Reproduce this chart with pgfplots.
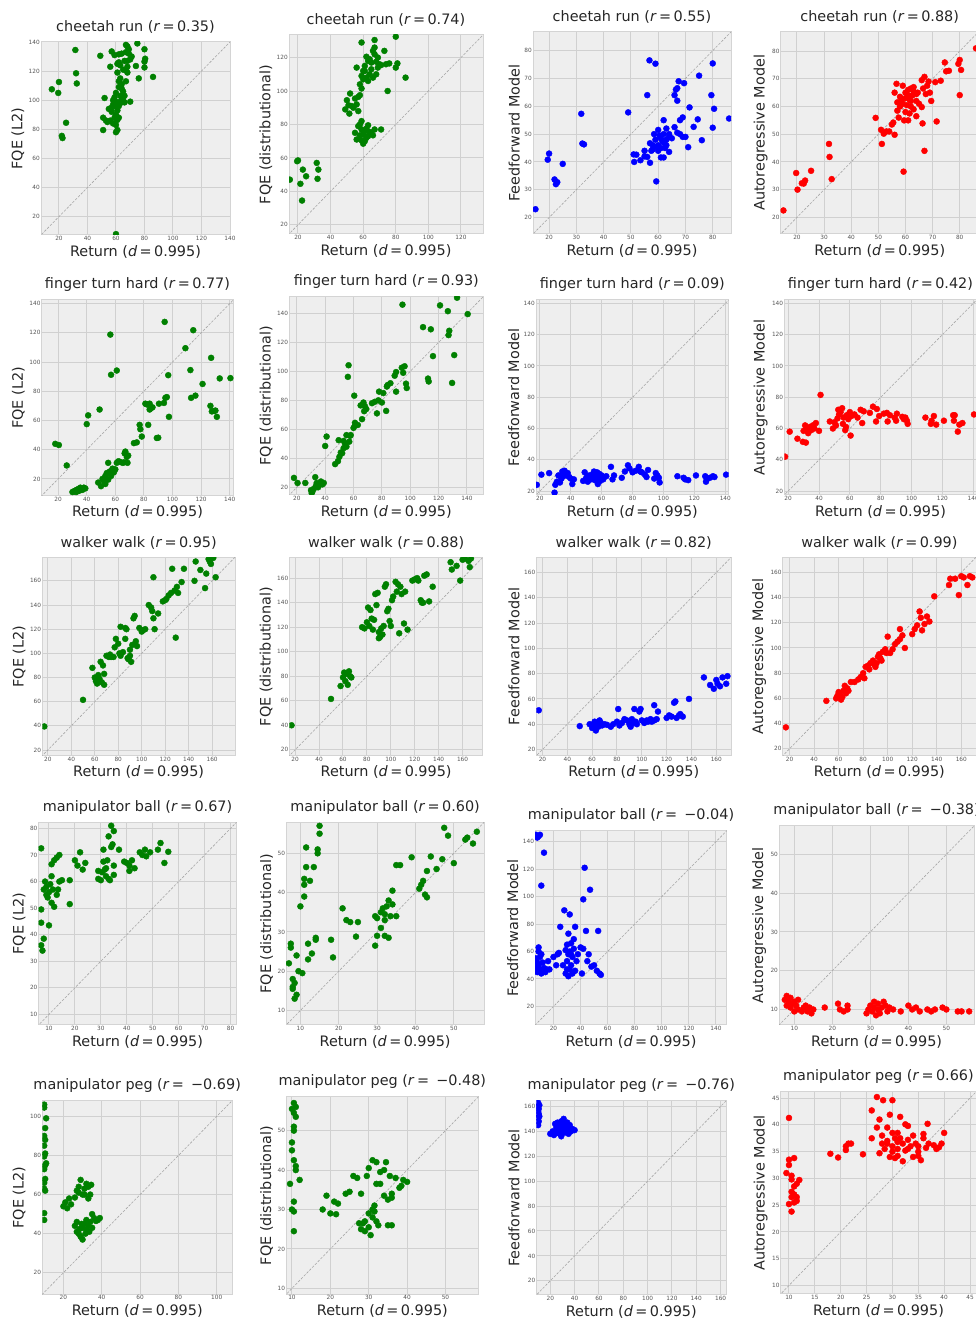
\documentclass[border=0pt]{standalone}
\usepackage{fontspec}
\setmainfont{DejaVu Sans}
\usepackage{pgfplots}
\pgfplotsset{compat=1.18}

\definecolor{bgc}{HTML}{EEEEEE}
\definecolor{gridc}{HTML}{D0D0D0}
\definecolor{framec}{HTML}{D4D4D4}
\definecolor{tickc}{HTML}{555555}
\definecolor{txtc}{HTML}{262626}
\definecolor{mgreen}{HTML}{008000}
\definecolor{mblue}{HTML}{0000FF}
\definecolor{mred}{HTML}{FF0000}

\newcommand{\nminus}{\hspace{0.5em}−}

\pgfplotsset{
  base/.style={
    scale only axis, anchor=south west,
    axis background/.style={fill=bgc},
    grid=major, major grid style={draw=gridc, line width=1pt},
    axis line style={draw=framec, line width=1pt},
    major tick length=0pt,
    clip marker paths=true,
    /pgf/number format/assume math mode=true,
    tick label style={font=\fontsize{5.8}{6}\selectfont, text=tickc},
    xticklabel style={inner sep=1pt},
    yticklabel style={inner sep=1pt},
    label style={font=\fontsize{14.4}{16}\selectfont, text=txtc},
    title style={font=\fontsize{14.4}{16}\selectfont, text=txtc, inner sep=2pt},
    xlabel={Return (\textit{d}\,=\,0.995)},
  },
  box/.style n args={4}{at={(#1pt,#2pt)}, width=#3pt, height=#4pt},
  lim/.style 2 args={xmin=#1, xmax=#2, ymin=#1, ymax=#2},
  diag/.style={color=gray!70, dashed, line width=0.6pt, dash pattern=on 2.5pt off 1.5pt},
  gdot/.style={only marks, mark=*, mark size=3pt, color=mgreen},
  bdot/.style={only marks, mark=*, mark size=3pt, color=mblue},
  rdot/.style={only marks, mark=*, mark size=3pt, color=mred},
}

\begin{document}
\begin{tikzpicture}
\useasboundingbox (0,0) rectangle (976pt,1322pt);
\clip (0,0) rectangle (976pt,1322pt);

% ---------------- row 1: cheetah run ----------------
\begin{axis}[base, box={41}{1087}{189}{193}, lim={7.4}{140},
  xtick={20,40,...,140}, ytick={20,40,...,140},
  title={cheetah run (\textit{r}\,=\,0.35)}, ylabel={FQE (L2)}]
\addplot[diag] coordinates {(0,0) (300,300)};
\addplot[gdot] coordinates {
(15,107.5) (19.5,105) (20,112.5) (22,75.5) (22.5,74) (25,84.5) (31.5,134.5) (32,118.5) (32.5,111.5) (60,8)
(49,130.5) (51,79.5) (51,88) (52,101.5) (53,86) (54,85) (55,94) (56,123) (56,86) (57,133.5) (57,92) (58,97)
(58,84) (59,102) (59,96) (59,131) (60,78) (60,90) (60,105) (60,99) (61,79.5) (61,86.5) (61,93) (61,119)
(61,125) (62,109) (62,96) (62,113) (62,126) (62,131.5) (63,99) (63,103) (63,115) (63,124) (64,108) (64,102)
(64,132) (65,121) (65,106) (66,127) (66,98.5) (66,103) (67,138) (67,113) (67,120.5) (67,133) (68,137) (68,127)
(68,119) (68,123) (69,132) (69,135) (70,99) (70,128) (71,130) (74,123.5) (75,139) (76,115) (80,135) (80,122.5)
(80,126.5) (80.5,128.5) (86,116) (63,98) (58,100) (57,95) (60,83) (62,88) (64,111) (65,100) (59,88)
};
\end{axis}

\begin{axis}[base, box={289}{1088}{194}{199}, lim={14.5}{133.5},
  xtick={20,40,...,120}, ytick={20,40,...,120},
  title={cheetah run (\textit{r}\,=\,0.74)}, ylabel={FQE (distributional)}]
\addplot[diag] coordinates {(0,0) (300,300)};
\addplot[gdot] coordinates {
(15,47) (19.5,58) (20,58.5) (21.5,44.5) (22.5,34.5) (23,53) (25,49) (31.5,57) (32,47.5) (32.5,53)
(49,89) (50,94.5) (51,91.5) (51.5,86.5) (52,98.5) (53,91) (54,90) (55,95.5) (56,92) (56,114) (57,96.5) (57,88)
(58,97.5) (58,104) (59,129) (59,109) (59,101.5) (60,112) (60,107) (61,112) (61,115) (62,120.5) (62,108) (63,118)
(63,106) (64,110) (64,119) (65,113) (65,117) (66,124) (66,108) (67,130.5) (67,126) (67,122) (68,110) (68,117.5)
(69,114) (69,120) (70,116) (71,115.5) (73,124) (74,116) (75,100) (76,116.5) (80,132.5) (80,114) (81,116.5) (86,108)
(55,75) (56,71) (57,79) (58,80) (58,73.5) (59,82) (59,77) (60,68.5) (60,74) (61,70) (61,76) (62,77.5) (62,72)
(63,73) (64,75.5) (65,74.5) (66,73.5) (67,77) (71,77) (59,70.5) (63,79.5)
};
\end{axis}

\begin{axis}[base, box={533}{1088}{198}{202}, lim={14.1}{86.7},
  xtick={20,30,...,80}, ytick={20,30,...,80},
  title={cheetah run (\textit{r}\,=\,0.55)}, ylabel={Feedforward Model}]
\addplot[diag] coordinates {(0,0) (300,300)};
\addplot[bdot] coordinates {
(15,23) (19.5,40.8) (20,43) (22,33.7) (22.5,32) (23,32.7) (25,39.3) (31.8,57.3) (32.2,46.6) (32.8,46.3)
(49,57.8) (51,42.7) (51.2,40) (52,42.6) (53.5,40.6) (55,44) (55,42) (56,64) (56,41.8) (56.8,76.5) (57,46.7)
(57,39.7) (58,44.5) (58,46) (58.5,50) (59,75.3) (59,48) (59.3,33) (60,51.5) (60,46) (60,44) (61,41.6) (61,48.5)
(61,45) (62,55) (62,50) (62,41.6) (62,47) (63,52) (63,48) (63,46) (64,49) (64,43.6) (64,50) (65,48.5) (66,64)
(66,52.5) (66.5,66) (67,66.5) (67,62) (67,50.5) (67.5,69) (68,50) (68,55) (69,56) (69,49) (69.5,68.3) (70,49)
(71,45.3) (71.5,59.6) (73,52.6) (74.5,55.3) (75,71) (76,47.8) (79.5,64) (80,75.4) (80,52.3) (80.5,59.1) (86,55.6)
(57.5,44) (59.5,45.5) (61.5,47.5) (60.5,49.5) (62.5,45)
};
\end{axis}

\begin{axis}[base, box={780.7}{1088}{198}{202.3}, lim={14}{87},
  xtick={20,30,...,80}, ytick={20,30,...,80},
  title={cheetah run (\textit{r}\,=\,0.88)}, ylabel={Autoregressive Model}]
\addplot[diag] coordinates {(0,0) (300,300)};
\addplot[rdot] coordinates {
(15,22.5) (19.7,36) (20.2,30) (21.8,32.3) (22.5,32.2) (23,33.3) (25.2,36.8) (31.8,46.5) (32,41.8) (32.8,33.8)
(49,55.9) (51,51.6) (51.3,46.5) (52,50.2) (53,51) (54,51) (55,53.5) (55.5,54.2) (56,49.8) (56,65) (56.7,68.2)
(57,58.5) (57,61.5) (57.5,56) (58,63.5) (58,60) (58.5,62.2) (59,67.5) (59.3,36.5) (59.5,55) (60,63) (60,58)
(60,65) (60.5,60.5) (61,55) (61,64) (61,66) (61.5,57.5) (62,66.5) (62,62) (62,60) (63,65.5) (63,59) (63,67)
(64,56.5) (64,62) (64.5,65) (65,61) (66,69.5) (66,59.8) (66.3,53.9) (66.5,66.5) (67,44) (67,70.7) (67.5,64.5)
(68,67.5) (68.5,69) (69,65) (69.5,62) (71,68.8) (71.5,54.6) (73,69.3) (74.5,75.9) (75,72.7) (76,72.9) (79.5,75.4)
(80,76.8) (80,64.1) (80.5,73.2) (86,81) (62.5,64) (61.5,62.5) (59,61) (64,64.5)
};
\end{axis}

% ---------------- row 2: finger turn hard ----------------
\begin{axis}[base, box={41.7}{826.3}{191.6}{195.7}, lim={8.5}{142.5},
  xtick={20,40,...,140}, ytick={20,40,...,140},
  title={finger turn hard (\textit{r}\,=\,0.77)}, ylabel={FQE (L2)}]
\addplot[diag] coordinates {(0,0) (300,300)};
\addplot[gdot] coordinates {
(18,44) (20.5,43.2) (26,29.2) (30,11) (31,11.5) (32,12) (32.5,11) (33,12.5) (34,13) (35,12) (35.5,14) (36,13)
(37,12.5) (38,14) (39,13.5) (33.5,11.5) (40,57.5) (41,63.5) (48,17.5) (49,67.5) (50,15) (51,20) (52,18.5) (53,22)
(53,16.5) (54,24) (55,31) (55,19.5) (56,25) (56.5,118.8) (57,91.3) (57,22) (58,27) (59,24.5) (60,26.5) (61,94.2)
(61,31) (62,32) (63,31.8) (65,31) (66,31.3) (66.5,37.5) (67,38.7) (68,35) (68.5,31) (69,36) (73,44.5) (75,45)
(77,57) (77.5,54) (78.5,49) (81,71.5) (82,71) (83,57) (84,71.5) (84,67.5) (85,68.5) (86,69) (89,48) (90,48.2)
(90.5,71.5) (94,72) (94.5,127.5) (95,75.5) (96,76) (97,91) (97.5,62.5) (109,109.5) (112.5,94.5) (113,75.5)
(114.5,121.8) (116,77) (121,85) (126.5,70) (127,102.9) (127.5,66.2) (129,66.5) (130,66.8) (131,62.5) (133,88.8) (140.5,89)
};
\end{axis}

\begin{axis}[base, box={289.3}{827}{194}{198.3}, lim={14.7}{151.5},
  xtick={20,40,...,140}, ytick={20,40,...,140},
  title={finger turn hard (\textit{r}\,=\,0.93)}, ylabel={FQE (distributional)}]
\addplot[diag] coordinates {(0,0) (300,300)};
\addplot[gdot] coordinates {
(18,26.5) (20.5,23) (26,23) (30,18) (31,17) (32,19) (33,27) (33.5,21) (34,23) (35,20) (36,22.5) (37,24) (38,22)
(39,23) (30.5,16) (40,48.5) (41,55) (47,36) (49,38) (49.5,52.5) (50,41) (51,44) (52,43.5) (53,47) (53,52) (54,50)
(55,56) (55,48) (56,96.2) (56.5,104.2) (57,51.5) (57.5,55.5) (58,56) (60,61) (60.5,83.2) (61,64.5) (61,62.5)
(63,63) (65,76.5) (66,67) (67,78.5) (67.5,72.5) (68,76) (69,74) (73,78) (75,79) (76.5,71) (77.5,80) (78,86)
(80,78.5) (81,85) (83,72.7) (83.5,89.5) (84,90.5) (86,91.8) (89,97) (90,99.5) (90,86) (94,102.5) (94.5,146)
(95,99) (96,103.5) (97,91.5) (97.5,88.5) (109,130.5) (112.5,95) (113,93) (114.5,129) (116,110.5) (121,145.5)
(126.5,141.5) (127,125) (127.5,128) (129.5,92) (131,111.2) (133,150.8) (140.5,139.5)
};
\end{axis}

\begin{axis}[base, box={536}{827}{192.7}{195}, lim={17.5}{142.2},
  xtick={20,40,...,140}, ytick={20,40,...,140},
  title={finger turn hard (\textit{r}\,=\,0.09)}, ylabel={Feedforward Model}]
\addplot[diag] coordinates {(0,0) (300,300)};
\addplot[bdot] coordinates {
(18,24) (21,30.5) (26,31.5) (29.5,19) (30,24) (31,26) (32,30) (33,25.5) (34,28) (34.5,32.5) (35,29.5) (36,33)
(37,30) (38,31.5) (39,29) (40,28) (41,24.5) (42,27.5) (48,26.5) (49,32) (50,28.5) (51,26) (52,29) (53,27.5)
(54,30.5) (55,32.5) (55.5,27) (56,29.5) (57,32) (57.5,24.5) (58,28) (59,26.5) (60,30) (61,27.5) (63,29.5)
(66,35.5) (67,27.5) (68,30) (73,28.5) (75,32.5) (77,36.5) (78,34.5) (80,32) (82,33) (84,35.5) (85,32.5) (86,32)
(88,30.5) (89,29) (90,33.5) (94,28) (95,31.5) (96,30) (97,28.5) (97.5,25.5) (109,29.5) (113,28.5) (114,27.5)
(116,27) (121,30) (127,29.5) (127.5,26) (128,27.5) (130,28.5) (132,29.5) (133,29) (140.5,30.5) (35.5,31) (52,30) (58.5,31)
};
\end{axis}

\begin{axis}[base, box={784.3}{827}{192.3}{195}, lim={17.5}{142.2},
  xtick={20,40,...,140}, ytick={20,40,...,140},
  title={finger turn hard (\textit{r}\,=\,0.42)}, ylabel={Autoregressive Model}]
\addplot[diag] coordinates {(0,0) (300,300)};
\addplot[rdot] coordinates {
(18,42) (21,58) (26,53.5) (29.5,51.5) (30,58.5) (31,62) (31.5,51) (32,60) (33,57) (34,61) (35,59) (36,62) (37,60)
(38,63.5) (40,58.5) (41,81.5) (47,64.5) (49,60) (50,64) (51,62) (52,66.5) (52.5,72) (53,69) (54,70.5) (55,73)
(55.5,63) (56,67) (57,59) (57.5,61) (58,68.5) (59,66) (60,70.5) (60.5,55.5) (61,68) (63,69) (65,67) (67,72)
(68,63.5) (69,71) (73,70) (75,74) (77,64.5) (77.5,72.5) (79,68) (82,69.5) (84,70) (84.5,64.5) (86,68.5) (89,67)
(90,65) (90.5,69.5) (94,67.5) (95,66) (96,67) (97,65) (97.5,63) (109,67) (112.5,63) (113,65) (114.5,68)
(116,62.5) (121,65) (127,68.5) (127.5,65) (128,68.5) (130,58) (131,62.5) (133,63.5) (140.5,69)
};
\end{axis}

% ---------------- row 3: walker walk ----------------
\begin{axis}[base, box={42.3}{566.3}{192.7}{198.4}, lim={15.3}{179.5},
  xtick={20,40,...,160}, ytick={20,40,...,160},
  title={walker walk (\textit{r}\,=\,0.95)}, ylabel={FQE (L2)}]
\addplot[diag] coordinates {(0,0) (300,300)};
\addplot[gdot] coordinates {
(17,39.5) (50,61.5) (58,88) (60,80) (61,77) (62,75) (63,82) (64,79) (65,93) (66,76) (67,90) (68,83) (68,74)
(70,98) (72,97) (73,99) (74,97) (76,97) (77,105) (78,112) (80,108) (81,100) (82,122) (82,98) (84,101) (86,121)
(86,112) (87,120) (88,96) (89,95) (90,103) (90,98) (91,93) (92,107) (93,129) (94,131) (95,110) (96,106) (98,121)
(100,118) (101,119) (103,120) (106,140) (108,138) (109,135) (110,163) (110,129) (111,120) (114,133) (118,143)
(120,144) (121,145) (123,148) (125,150) (126,170) (128,152) (130,155) (131,150) (129,113) (134,159) (136,170)
(145,160) (146,176) (150,169) (154,154) (155,166) (157,178) (158,176) (159,174) (161,179) (163,163)
};
\end{axis}

\begin{axis}[base, box={289.4}{566.3}{193.5}{198.4}, lim={15.2}{177},
  xtick={20,40,...,160}, ytick={20,40,...,160},
  title={walker walk (\textit{r}\,=\,0.88)}, ylabel={FQE (distributional)}]
\addplot[diag] coordinates {(0,0) (300,300)};
\addplot[gdot] coordinates {
(17,40) (50,61.5) (58,72) (60,79) (61,83) (62,76) (63,82) (64,73) (65,84) (66,80) (67,79) (76,120) (78,119)
(80,124) (81,136) (82,121) (83,134) (84,127) (85,118) (86,126) (87,147) (88,138) (89,148) (90,111) (90,116)
(92,119) (93,114) (94,121) (95,153) (96,155) (97,133) (98,135) (99,125) (100,121) (101,142) (102,145) (104,157)
(105,149) (106,155) (107,115) (108,153) (109,147) (111,123) (112,149) (118,158) (120,159) (122,160) (123,158)
(125,142) (126,140) (127,140) (128,162) (130,163) (132,141) (135,153) (150,173) (151,167) (155,170) (158,158)
(160,175) (162,176) (165,174) (166,169) (167,176) (114,118) (91,112)
};
\end{axis}

\begin{axis}[base, box={536.4}{566.3}{194.8}{198.4}, lim={15.1}{172},
  xtick={20,40,...,160}, ytick={20,40,...,160},
  title={walker walk (\textit{r}\,=\,0.82)}, ylabel={Feedforward Model}]
\addplot[diag] coordinates {(0,0) (300,300)};
\addplot[bdot] coordinates {
(17,51) (50,38.5) (58,40) (60,37) (61,39) (62,42) (63,35) (64,40) (65,38) (66,43) (67,41) (68,39) (70,40)
(72,39.5) (75,38) (77,40) (80,42) (81,52) (82,39) (84,41) (86,44) (88,43) (90,40) (91,38) (92,44) (93,41) (94,52)
(95,42) (96,40) (98,50) (99,52) (100,43) (102,41) (104,43) (105,42) (107,44) (108,42) (110,55) (110,43) (112,44)
(113,50) (120,45) (122,47) (124,46) (126,57) (127,58) (128,45) (130,47) (131,48) (133,46) (138,60) (150,77)
(155,71) (158,68) (160,75) (161,72) (163,70) (165,77) (168,72) (169,78)
};
\end{axis}

\begin{axis}[base, box={782.8}{566.3}{193.2}{198.4}, lim={14.5}{172},
  xtick={20,40,...,160}, ytick={20,40,...,160},
  title={walker walk (\textit{r}\,=\,0.99)}, ylabel={Autoregressive Model}]
\addplot[diag] coordinates {(0,0) (300,300)};
\addplot[rdot] coordinates {
(17,37) (50,58) (58,60) (59,62) (60,65) (61,63) (62,59) (63,61) (64,66) (65,70) (66,64) (67,68) (68,66) (70,73)
(73,73) (76,75) (78,77) (80,80) (81,76) (82,85) (84,86) (85,83) (86,88) (88,90) (89,87) (90,85) (91,88) (92,93)
(93,95) (94,92) (95,90) (96,97) (98,99) (99,96) (100,109) (102,96) (104,99) (106,103) (108,105) (110,115)
(110,107) (112,110) (114,100) (120,111) (122,115) (124,118) (126,129) (127,124) (128,114) (130,119) (132,125)
(134,121) (138,141) (150,150) (151,155) (155,155) (158,142) (160,157) (162,156) (165,150) (167,157) (169,156)
};
\end{axis}

% ---------------- row 4: manipulator ball ----------------
\begin{axis}[base, box={38.6}{297}{197.9}{202.7}, lim={6}{82.3},
  xtick={10,20,...,80}, ytick={10,20,...,80},
  title={manipulator ball (\textit{r}\,=\,0.67)}, ylabel={FQE (L2)}]
\addplot[diag] coordinates {(0,0) (300,300)};
\addplot[gdot] coordinates {
(7,72.5) (7,49.5) (7,44.5) (7,36) (7.5,34) (8,38.5) (8,57) (8.5,60) (9,55) (9,58) (9.5,54) (10,43.5) (10,56)
(10.5,59) (11,66.5) (11,52) (11,62) (11.5,57) (12,68) (12,50.5) (13,69) (13,55) (13.5,57) (14,70) (14,60)
(15,60.5) (18,51.5) (18,60.5) (20,68) (21,66) (22,71) (23,64.5) (24,67) (29,64) (29,61) (30,60.5) (30.5,63.5)
(31,67.5) (31,72) (32,65) (32,62) (32.5,68) (33,77) (33,61) (34,81) (34,73) (34.5,74) (35,79) (35,66) (35,62.5)
(37,72) (39,67.5) (40,67) (41,64) (41,66) (42,68) (43,65) (45,71) (46,70) (47,72) (47.5,69.5) (49,71) (52,72)
(53,74.5) (54.5,67) (56,71.2) (33.5,60.5) (31.5,64.5)
};
\end{axis}

\begin{axis}[base, box={286.2}{297}{197.9}{202.7}, lim={6.3}{57.9},
  xtick={10,20,...,50}, ytick={10,20,...,50},
  title={manipulator ball (\textit{r}\,=\,0.60)}, ylabel={FQE (distributional)}]
\addplot[diag] coordinates {(0,0) (300,300)};
\addplot[gdot] coordinates {
(7,22) (7.5,26) (7.5,27) (8,18) (8,16) (8,15.5) (8.5,13) (8.5,17) (9,14) (9,24) (9.5,20) (10,36.5) (10.5,19.5)
(11,39) (11,42) (11,43.5) (11.5,46.5) (11.5,51.5) (12,23) (12,27) (12.5,43) (13,24.5) (13.5,46.5) (14,28.5)
(14,28) (14.5,51) (14.5,50) (15,55) (15,57) (18,28) (18.5,23.5) (21,36) (22,33) (23,32.5) (24.5,28.8) (25,32.5)
(29.5,26.5) (29.5,34) (30,33.5) (30,29) (31,31) (31,35) (32,29) (32,33) (32.5,36.5) (33,28.5) (33,38) (33.5,34)
(34,37) (34,40.5) (35,47) (35,34) (36,47) (39,49) (41,41) (41.5,42) (42,43) (42.5,39.5) (43,38.8) (43,45.5)
(44,49.2) (45.5,46) (47,48.5) (47.5,56.5) (48.5,54.5) (50,47.5) (53,53.5) (53.5,54) (55,52.5) (56,55.5) (31.5,36) (32,34.5)
};
\end{axis}

\begin{axis}[base, box={535.2}{297}{191.6}{194.3}, lim={6.5}{148},
  xtick={20,40,...,140}, ytick={20,40,...,140},
  title={manipulator ball (\textit{r}\,=\nminus0.04)}, ylabel={Feedforward Model}]
\addplot[diag] coordinates {(0,0) (300,300)};
\addplot[bdot] coordinates {
(7,145) (8,143) (9,144) (10,145) (11,108) (13,132) (7,55) (7,48) (8,45) (8,52) (9,60) (9,50) (9,63) (10,47)
(10,56) (11,58) (11,44) (12,52) (13,48) (14,45) (15,47) (16,53) (17,47) (20,56) (22,50) (23,58) (24,59) (25,78)
(27,50) (28,90) (29,44) (29,61) (30,65) (30,53) (31,58) (31,42) (31,73) (32,87) (32,47) (32,60) (33,66) (33,50)
(34,44) (34,56) (35,69) (35,62) (36,46) (36,78) (37,53) (38,58) (40,63) (41,44) (42,98) (42,62) (43,121) (44,75)
(45,53) (46,58) (47,105) (48,49) (50,50) (52,46) (53,75) (54,44) (55,43) (33,58) (30,47)
};
\end{axis}

\begin{axis}[base, box={779.1}{297}{195}{199}, lim={6}{57.3},
  xtick={10,20,...,50}, ytick={10,20,...,50},
  title={manipulator ball (\textit{r}\,=\nminus0.38)}, ylabel={Autoregressive Model}]
\addplot[diag] coordinates {(0,0) (300,300)};
\addplot[rdot] coordinates {
(7.5,12.5) (8,13.5) (8,11) (8.5,12) (9,13) (9,10.5) (9.5,11.5) (10,12) (10,9.5) (10.5,11) (11,10) (11,12.5)
(12,9.5) (12.5,10.5) (13,11) (13.5,9.5) (14,10.5) (14.5,9) (15,10) (18,10.5) (21.5,11.5) (22,10) (23,9.5) (24,11)
(24,10) (29,9) (29.5,10) (30,11) (30.5,9.5) (31,10.5) (31,12) (31.5,8.5) (32,10) (32,11.5) (32.5,9) (33,10.5)
(33.5,12) (34,11) (34.5,9.5) (35,10.5) (36,10) (38,9.5) (40,11) (41,10) (42,10.5) (43,9.5) (45,10) (46,9.5)
(47,10) (49,10.5) (50,10) (53,9.5) (54,9.5) (56,9.5)
};
\end{axis}

% ---------------- row 5: manipulator peg ----------------
\begin{axis}[base, box={42.3}{27.7}{189.8}{193.6}, lim={9}{108},
  xtick={20,40,...,100}, ytick={20,40,...,100},
  title={manipulator peg (\textit{r}\,=\nminus0.69)}, ylabel={FQE (L2)}]
\addplot[diag] coordinates {(0,0) (300,300)};
\addplot[gdot] coordinates {
(10,106) (10,104.5) (11,99) (10.5,94) (10,90) (10.5,88) (10,85) (10.5,81) (10,79.5) (11,76) (10.5,75) (10,73)
(10.5,68) (10,66) (10,63) (10.5,62) (10,50.5) (10,47) (20,54) (21,56) (22,53) (23,58) (24,55) (26,58.5) (27,62)
(28,64) (29,67.5) (30,60) (31,63) (32,65.5) (33,64) (34,60) (34.5,65) (28,61) (26,44) (27,41) (28,40) (28.5,42.5)
(29,38.5) (30,37) (30,43) (31,45) (31.5,40) (32,42) (32,47) (33,44) (33.5,41) (34,46) (35,43) (35,50) (36,48)
(37,46.5) (38,47) (39,48) (29.5,45) (27,46) (31,60) (33,58)
};
\end{axis}

\begin{axis}[base, box={286.2}{27.7}{192.3}{197.6}, lim={8.5}{58.6},
  xtick={10,20,...,50}, ytick={10,20,...,50},
  title={manipulator peg (\textit{r}\,=\nminus0.48)}, ylabel={FQE (distributional)}]
\addplot[diag] coordinates {(0,0) (300,300)};
\addplot[gdot] coordinates {
(10.5,57) (10,55.5) (11,56) (10.5,54.5) (11,53.5) (10.5,51) (10.5,50) (10,47) (10,45) (10.5,42.5) (11,41) (11,40)
(12,37.5) (9.5,36.5) (10.5,32) (10,30) (10.5,29.5) (10.5,24.5) (18,30) (19,33.5) (20,29) (21,32) (21.5,28.8)
(22,31.5) (24,34) (25,34.5) (26,38.5) (27,38) (27.5,26.5) (28,25) (28,34) (28.5,26.5) (29,27) (29,24.5)
(29.5,38.5) (30,40.5) (30,25.5) (30.5,23.5) (31,28) (31,30) (31,42.5) (31.5,29.5) (32,42) (32,36.5) (32,27)
(32.5,26) (33,39.5) (33,36.5) (34,33.5) (34,40) (34.5,42) (35,32.5) (35,26) (35.5,38.5) (36,34) (36,33) (36,26)
(37,38) (38,35.5) (38.5,36) (39,37.5) (40,37) (30,29) (31.5,31)
};
\end{axis}

\begin{axis}[base, box={536.4}{27}{189.8}{194.3}, lim={8.6}{164.6},
  xtick={20,40,...,160}, ytick={20,40,...,160},
  title={manipulator peg (\textit{r}\,=\nminus0.76)}, ylabel={Feedforward Model}]
\addplot[diag] coordinates {(0,0) (300,300)};
\addplot[bdot] coordinates {
(10,163) (10,160) (10.5,158) (10,156) (10.5,154) (10,151) (10.5,148) (10,145) (11,152) (11,161)
(20,138) (22,140) (23,137) (24,146) (25,143) (26,147) (27,141) (28,145) (28,138) (29,136) (29,148) (30,143)
(30,140) (31,146) (31,150) (32,139) (33,144) (33,141) (34,147) (35,138) (35,142) (36,145) (37,140) (38,142)
(40,141) (27,138.5) (25,139)
};
\end{axis}

\begin{axis}[base, box={780.7}{28}{195.5}{202.3}, lim={8.4}{46.2},
  xtick={10,15,...,45}, ytick={10,15,...,45},
  title={manipulator peg (\textit{r}\,=\,0.66)}, ylabel={Autoregressive Model}]
\addplot[diag] coordinates {(0,0) (300,300)};
\addplot[rdot] coordinates {
(9.5,31) (10,41.3) (10,33.5) (10,32.5) (10,25.2) (10.5,30.5) (10.5,27.5) (10.5,23.8) (10.5,26.5) (11,33.8)
(11,28.5) (11,25.5) (11,27) (11.5,29) (11.5,26.5) (12,29.7) (11.5,25.8) (10.5,29.8) (18,34.6) (19.5,33.9)
(21,35.3) (21,36) (21.5,36.5) (22,36.5) (24.3,34.5) (26,37.5) (26,42.7) (27,45.2) (27,39.5) (27.5,41) (27.5,34.7)
(28,36.5) (28,38) (28.2,44.6) (28.5,35.5) (29,39.5) (29,37) (29.5,41.9) (29.5,34) (30,44.6) (30,38.5) (30,36)
(30,35) (30.5,37.5) (30.5,33.8) (31,38.5) (31,35.5) (31,34.2) (31.5,41.5) (31.5,37.5) (32,36.5) (32,33.2)
(32.5,40.1) (32.5,35.2) (33,39.8) (33,37.2) (33.5,36) (34,34) (34,38) (34.5,36.5) (35,34.2) (35,36) (35.5,33.4)
(36,38.3) (36,37.5) (36.5,35.7) (36.8,40.2) (37,36.5) (38,36.2) (38.5,35.5) (39,35.8) (39.5,36.5) (40,38.5)
(35,35) (33,35.5) (29,36.5) (31,36.8)
};
\end{axis}

\end{tikzpicture}
\end{document}
